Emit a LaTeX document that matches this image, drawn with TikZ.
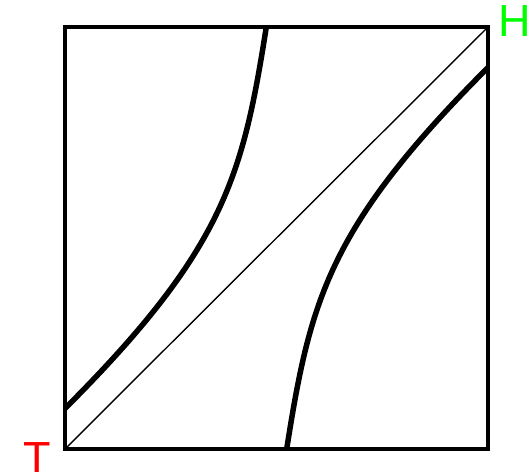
\documentclass[tikz,border=0pt]{standalone}
\usepackage{fontspec}
\setmainfont{Liberation Sans}
\begin{document}
\begin{tikzpicture}[x=1pt,y=-1pt,
  frame/.style={line width=4pt},
  thin diag/.style={line width=1.4pt},
  curve/.style={line width=5.5pt},
  lab/.style={font=\fontsize{45}{45}\selectfont, inner sep=0pt, anchor=base west}]
\useasboundingbox (0,0) rectangle (531,472);
\coordinate (tl) at (65,27);
\coordinate (br) at (488,449);
\coordinate (bl) at (65,449);
\coordinate (tr) at (488,27);
\coordinate (l1) at (65,408.5);
\coordinate (l2) at (266.3,27);
\coordinate (r1) at (488,67.5);
\coordinate (r2) at (286.7,449);
\begin{scope}
\clip (tl) rectangle (br);
\draw[curve] (l1) .. controls (225,248.5) and (242.9,175.2) .. (l2);
\draw[curve] (r1) .. controls (328,227.5) and (310.1,300.8) .. (r2);
\end{scope}
\draw[thin diag] (bl) -- (tr);
\draw[frame] (tl) rectangle (br);
\node[lab, text=red] (T) at (23,473) {T};
\node[lab, text=green] (H) at (498,36) {H};
\end{tikzpicture}
\end{document}
